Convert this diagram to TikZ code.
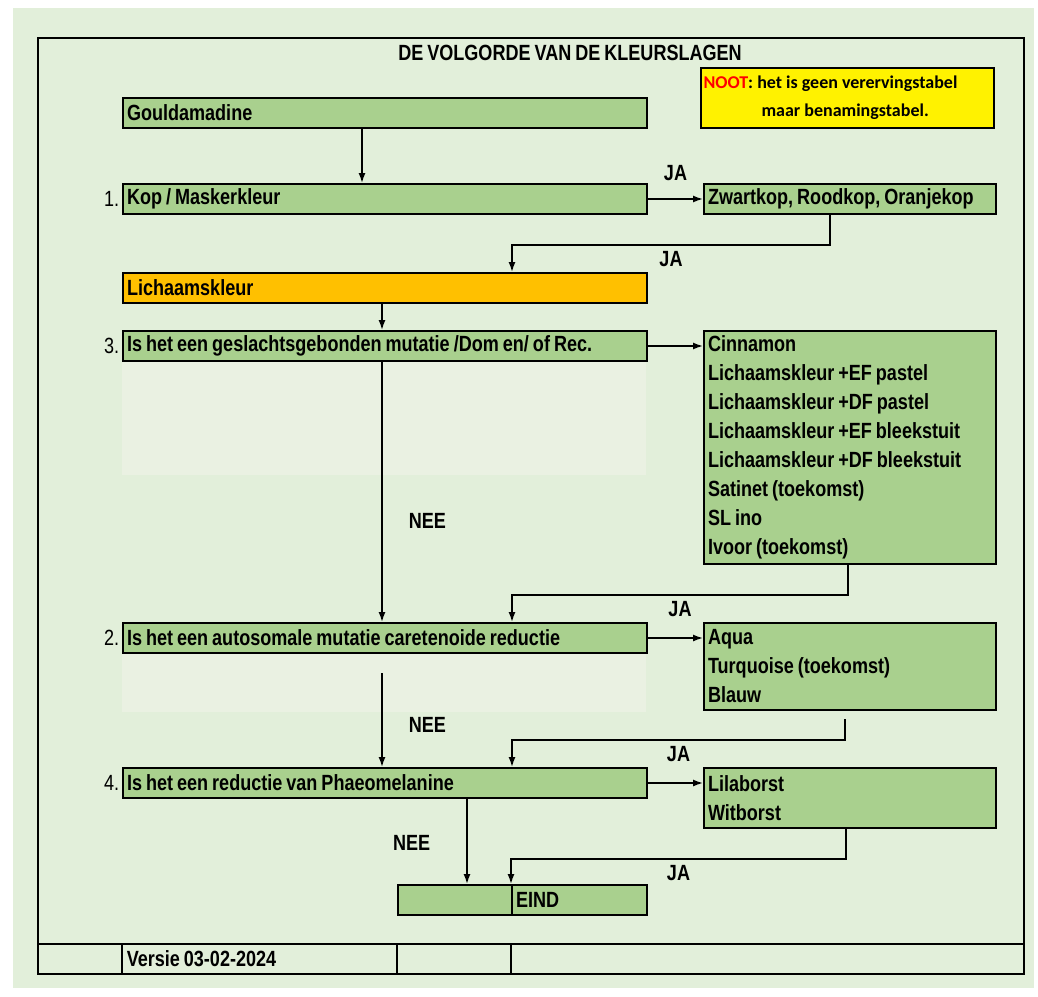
\documentclass[tikz,border=0pt]{standalone}
\usepackage{fontspec}
\setmainfont{Liberation Sans}[FakeStretch=0.82, WordSpace=0.8]
\newfontfamily\notefont{Carlito}
\usetikzlibrary{arrows.meta,positioning}
\definecolor{bgColor}{HTML}{E2EFDA}
\definecolor{paleColor}{HTML}{EAF1E2}
\definecolor{boxColor}{HTML}{A9D08E}
\definecolor{bodyColor}{HTML}{FFC000}
\definecolor{nootColor}{HTML}{FF0000}
\tikzset{
	stage box/.style={draw=black, line width=1pt, fill=boxColor, anchor=north west,
		minimum width=262pt, minimum height=15pt, text width=258pt, inner xsep=2pt, inner ysep=0pt,
		align=left, execute at begin node={\spaceskip=0pt\xspaceskip=0pt},
		font=\bfseries\fontsize{11}{14.5}\selectfont},
	result box/.style={stage box, minimum width=146pt, text width=142pt},
	num/.style={font=\fontsize{11}{12}\selectfont, inner sep=1pt},
	answer/.style={font=\bfseries\fontsize{11}{12}\selectfont, inner sep=1pt}
}

\begin{document}
\begin{tikzpicture}[x=0.5pt, y=-0.5pt, >={Latex[length=5pt,width=3.5pt]}, line width=0.75pt]
	\useasboundingbox (0,0) rectangle (1038,996);
	\fill[white] (0,0) rectangle (1038,996);
	\fill[bgColor] (13,8) rectangle (1034,988);
	\fill[paleColor] (122,360) rectangle (646,475);
	\fill[paleColor] (122,651) rectangle (646,712);
	% frame and footer
	\draw[line width=1.3pt] (38,38) rectangle (1024,974);
	\draw[line width=1.3pt] (38,944) -- (1024,944);
	\foreach \fx in {122,397,511}
		\draw (\fx,944) -- (\fx,974);
	\node[answer, anchor=west] (versie) at (124,959) {Versie 03-02-2024};
	\node[answer] (title) at (570,53) {DE VOLGORDE VAN DE KLEURSLAGEN};
	\node[draw, fill=yellow, line width=1pt, anchor=north west, minimum width=146.5pt, minimum height=30pt,
		text width=144pt, inner xsep=1pt, inner ysep=0pt, align=left,
		execute at begin node={\spaceskip=0pt\xspaceskip=0pt},
		font=\notefont\bfseries\fontsize{9}{14}\selectfont] at (700,67) (noot)
		{\textcolor{nootColor}{NOOT}: het is geen verervingstabel\\\hspace*{29pt}maar benamingstabel.};

	\node[stage box] at (122,97) (gould) {Gouldamadine};
	\node[stage box, label={[num]left:1.}] at (122,183) (kop) {Kop / Maskerkleur};
	\node[result box] at (703,183) (zwart) {Zwartkop, Roodkop, Oranjekop};
	\node[stage box, fill=bodyColor] at (122,272) (lich) {Lichaamskleur};
	\node[stage box, label={[num]left:3.}] at (122,330) (mut_3) {Is het een geslachtsgebonden mutatie /Dom en/ of Rec.};
	\node[result box, minimum height=116.5pt] at (703,330) (res_3) {Cinnamon\\Lichaamskleur +EF pastel\\Lichaamskleur +DF pastel\\Lichaamskleur +EF bleekstuit\\Lichaamskleur +DF bleekstuit\\Satinet (toekomst)\\SL ino\\Ivoor (toekomst)};
	\node[stage box, label={[num]left:2.}] at (122,622) (mut_2) {Is het een autosomale mutatie caretenoide reductie};
	\node[result box, minimum height=43.5pt] at (703,622) (res_2) {Aqua\\Turquoise (toekomst)\\Blauw};
	\node[stage box, label={[num]left:4.}] at (122,767) (mut_4) {Is het een reductie van Phaeomelanine};
	\node[result box, minimum height=30pt] at (703,767) (res_4) {Lilaborst\\Witborst};
	\node[stage box, minimum width=57pt, text width=53pt] at (397,884) (eind_l) {};
	\node[stage box, minimum width=67.5pt, text width=63.5pt] at (511,884) (eind) {EIND};

	\coordinate (x_a) at (362,0);
	\coordinate (x_b) at (382,0);
	\coordinate (x_d) at (467,0);
	\coordinate (x_ja) at (512,0);
	\coordinate (ja_1) at (830,245);
	\coordinate (ja_2) at (848,595);
	\coordinate (ja_3) at (845,740);
	\coordinate (ja_4) at (846,859);

	\draw[->] (gould.south -| x_a) -- (kop.north -| x_a);
	\path (kop.east) edge[->] node[answer, above=8pt] {JA} (zwart.west);
	\draw[->] (zwart.south -| ja_1) -- (ja_1) -- node[answer, below=2pt] {JA} (ja_1 -| x_ja) -- (lich.north -| x_ja);
	\draw[->] (lich.south -| x_b) -- (mut_3.north -| x_b);
	\path (mut_3.east) edge[->] (mut_3.east -| res_3.west);
	\draw[->] (mut_3.south -| x_b) -- node[answer, right=12pt, pos=0.61] {NEE} (mut_2.north -| x_b);
	\draw[->] (res_3.south -| ja_2) -- (ja_2) -- node[answer, below=2pt] {JA} (ja_2 -| x_ja) -- (mut_2.north -| x_ja);
	\path (mut_2.east) edge[->] (mut_2.east -| res_2.west);
	\draw[->] ([yshift=-9.5pt]mut_2.south -| x_b) -- node[answer, right=12pt, pos=0.55] {NEE} (mut_4.north -| x_b);
	\draw[->] ([yshift=-4pt]res_2.south -| ja_3) -- (ja_3) -- node[answer, below=2pt] {JA} (ja_3 -| x_ja) -- (mut_4.north -| x_ja);
	\path (mut_4.east) edge[->] (mut_4.east -| res_4.west);
	\draw[->] (mut_4.south -| x_d) -- node[answer, left=17pt, pos=0.52] {NEE} (eind_l.north -| x_d);
	\draw[->] (res_4.south -| ja_4) -- (ja_4) -- node[answer, below=2pt] {JA} (ja_4 -| eind.north west) -- (eind.north west);
\end{tikzpicture}
\end{document}
